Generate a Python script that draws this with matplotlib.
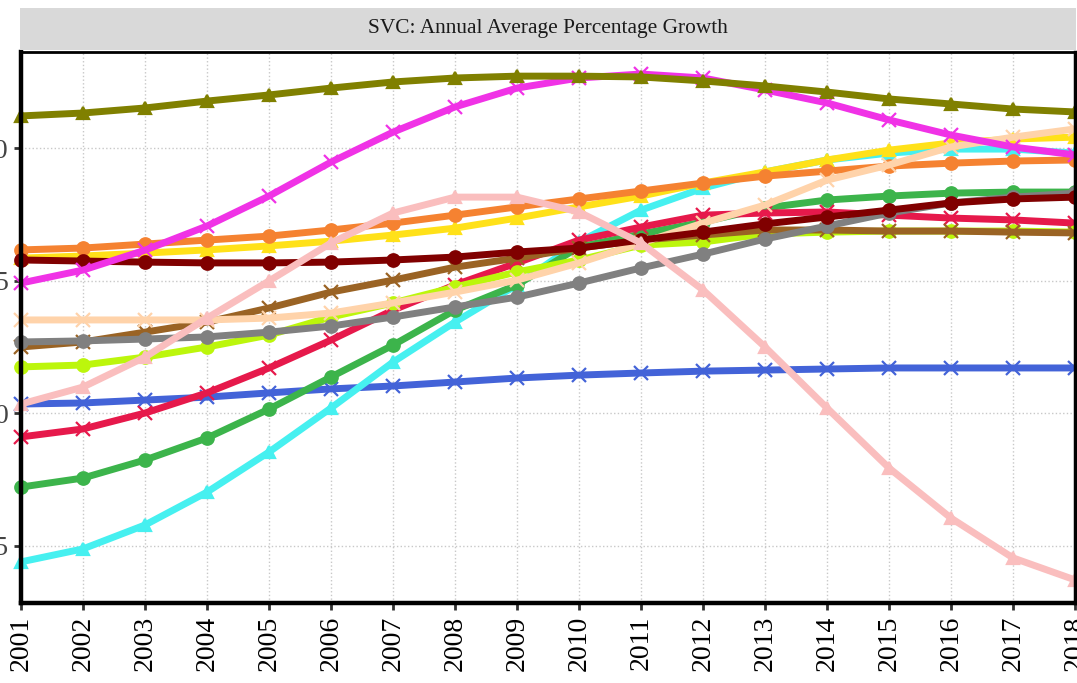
import numpy as np
import matplotlib.pyplot as plt

plt.rcParams['font.family'] = ['Liberation Serif', 'DejaVu Serif']

years = np.arange(2001, 2019)

olive = [11.21, 11.32, 11.51, 11.77, 12.00, 12.26, 12.49, 12.64, 12.71, 12.71,
         12.68, 12.53, 12.34, 12.11, 11.85, 11.66, 11.47, 11.36]
magenta = [4.91, 5.40, 6.15, 7.06, 8.19, 9.47, 10.60, 11.55, 12.26, 12.64,
           12.79, 12.64, 12.19, 11.70, 11.06, 10.49, 10.04, 9.74]
orange = [6.16, 6.23, 6.38, 6.53, 6.68, 6.91, 7.17, 7.47, 7.78, 8.08,
          8.38, 8.68, 8.94, 9.13, 9.32, 9.43, 9.51, 9.55]
yellow = [5.85, 5.93, 6.04, 6.16, 6.31, 6.49, 6.72, 6.98, 7.36, 7.78,
          8.19, 8.68, 9.10, 9.55, 9.92, 10.19, 10.34, 10.41]
darkred = [5.78, 5.74, 5.70, 5.67, 5.67, 5.70, 5.78, 5.89, 6.08, 6.23,
           6.53, 6.83, 7.14, 7.40, 7.66, 7.93, 8.08, 8.15]
pink = [0.35, 0.99, 2.12, 3.59, 4.99, 6.42, 7.55, 8.15, 8.15, 7.59,
        6.42, 4.65, 2.50, 0.20, -2.06, -3.95, -5.45, -6.28]
brown = [2.50, 2.69, 3.06, 3.44, 3.97, 4.57, 5.02, 5.51, 5.85, 6.23,
         6.53, 6.72, 6.91, 6.91, 6.87, 6.87, 6.83, 6.80]
peach = [3.52, 3.52, 3.52, 3.52, 3.59, 3.78, 4.16, 4.57, 5.02, 5.67,
         6.42, 7.17, 7.85, 8.79, 9.36, 10.04, 10.41, 10.72]
gray = [2.69, 2.73, 2.80, 2.88, 3.06, 3.29, 3.63, 4.01, 4.38, 4.91,
        5.48, 6.00, 6.57, 7.06, 7.55, 7.93, 8.15, 8.30]
lime = [1.75, 1.82, 2.12, 2.50, 2.95, 3.63, 4.16, 4.76, 5.33, 5.78,
        6.34, 6.46, 6.76, 6.83, 6.87, 6.87, 6.87, 6.83]
red = [-0.89, -0.59, 0.01, 0.77, 1.71, 2.76, 3.89, 4.84, 5.67, 6.53,
       7.02, 7.47, 7.55, 7.59, 7.47, 7.36, 7.29, 7.17]
green = [-2.78, -2.44, -1.76, -0.93, 0.16, 1.37, 2.57, 3.89, 4.84, 6.27,
         6.76, 7.21, 7.74, 8.04, 8.19, 8.30, 8.34, 8.34]
cyan = [-5.60, -5.11, -4.21, -2.97, -1.46, 0.20, 1.93, 3.44, 4.84, 6.46,
        7.66, 8.49, 9.10, 9.55, 9.81, 9.96, 9.96, 9.81]
blue = [0.35, 0.39, 0.50, 0.61, 0.77, 0.92, 1.03, 1.18, 1.33, 1.44,
        1.52, 1.59, 1.63, 1.67, 1.71, 1.71, 1.71, 1.71]

# (values, colour, marker) in drawing order
series = [
    (blue, '#4363D8', 'x'),
    (cyan, '#46F0F0', '^'),
    (green, '#3CB44B', 'o'),
    (red, '#E6194B', 'x'),
    (lime, '#BCF60C', 'o'),
    (yellow, '#FFE119', '^'),
    (orange, '#F58231', 'o'),
    (brown, '#9A6324', 'x'),
    (peach, '#FFD3AA', 'x'),
    (gray, '#808080', 'o'),
    (darkred, '#800000', 'o'),
    (pink, '#FABEBE', '^'),
    (magenta, '#F032E6', 'x'),
    (olive, '#808000', '^'),
]

yticks = [-5, 0, 5, 10]

fig = plt.figure(figsize=(10.77, 6.83), dpi=100)
ax = fig.add_axes([21 / 1077, 80 / 683, 1054 / 1077, 551 / 683])

for vals, col, mk in series:
    ax.plot(years, vals, color=col, lw=5, marker=mk, ms=9 if mk != 'x' else 10,
            mew=1.6, solid_capstyle='butt', clip_on=False)

ax.set_xlim(2001, 2018)
ax.set_ylim(-7.15, 13.62)
ax.set_xticks(years)
ax.set_xticklabels([str(y) for y in years], rotation=90, fontsize=20, color='black')
ax.set_yticks(yticks)
ax.set_yticklabels([str(v) for v in yticks], fontsize=20, color='#444444')
ax.tick_params(axis='both', length=5, width=2, color='#333333', pad=4)

ax.grid(True, color='#C8C8C8', linestyle=':', linewidth=1)
ax.set_axisbelow(True)

for side, w in [('left', 3.2), ('bottom', 3.2), ('top', 2), ('right', 2.5)]:
    ax.spines[side].set_linewidth(w)
    ax.spines[side].set_color('black')

# facet strip with the title
strip = fig.add_axes([20 / 1077, 633 / 683, 1056 / 1077, 42 / 683])
strip.set_facecolor('#D9D9D9')
strip.set_xticks([])
strip.set_yticks([])
for s in strip.spines.values():
    s.set_visible(False)
strip.text(0.5, 0.5, 'SVC: Annual Average Percentage Growth', ha='center', va='center',
           fontsize=15.4, color='#1A1A1A', transform=strip.transAxes)

fig.savefig('out.png', dpi=100)
